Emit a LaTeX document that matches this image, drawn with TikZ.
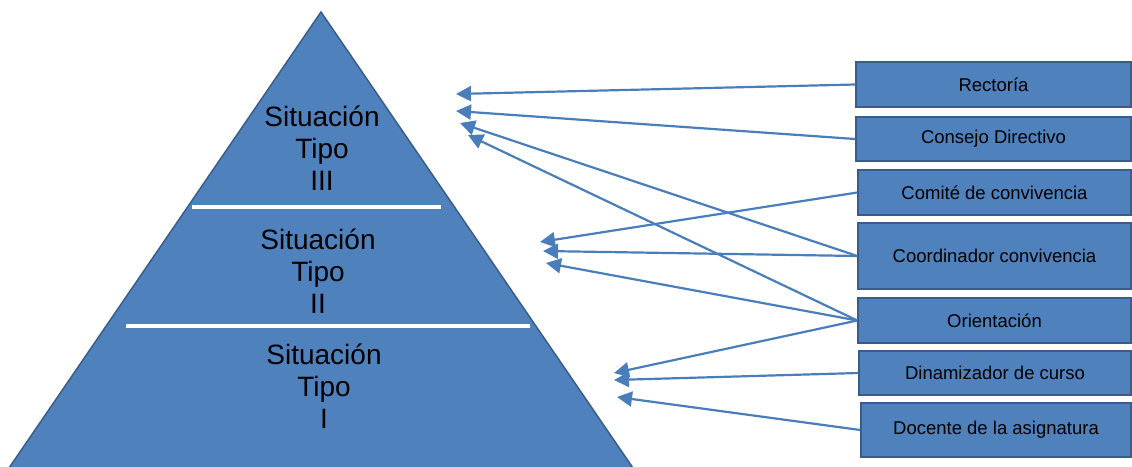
\documentclass[tikz,border=0pt]{standalone}
\usepackage{fontspec}
\setmainfont{Liberation Sans}
\usetikzlibrary{arrows.meta}
\definecolor{fillblue}{HTML}{4F81BD}
\definecolor{edgeblue}{HTML}{385D8A}
\definecolor{arrowblue}{HTML}{4A7EBB}
\begin{document}
\begin{tikzpicture}[x=1pt,y=-1pt,
  rolebox/.style={draw=edgeblue, line width=1.5pt, fill=fillblue, font=\fontsize{18.5}{22}\selectfont, text=black, inner sep=0pt},
  link/.style={draw=arrowblue, line width=2.2pt, -{Triangle[length=15pt,width=15pt]}},
  level/.style={align=center, font=\fontsize{28}{32}\selectfont, text=black},
  divider/.style={white, line width=4pt}]
\useasboundingbox (0,0) rectangle (1132,466);
\clip (0,0) rectangle (1132,466);
% pyramid
\draw[edgeblue, line width=1.5pt, fill=fillblue] (321,12) -- (633,468) -- (9,468) -- cycle;
\draw[divider] (192,207) -- (441,207);
\draw[divider] (126,326) -- (530,326);
\node[level] (t3) at (322,148) {Situación\\Tipo\\III};
\node[level] (t2) at (318,271) {Situación\\Tipo\\II};
\node[level] (t1) at (324,386) {Situación\\Tipo\\I};
% role boxes
\node[rolebox, minimum width=275pt, minimum height=45pt] (rec) at (993.5,84.5) {Rectoría};
\node[rolebox, minimum width=275pt, minimum height=44pt] (con) at (993.5,139) {Consejo Directivo};
\node[rolebox, minimum width=273pt, minimum height=45pt] (com) at (994.5,192.5) {Comité de convivencia};
\node[rolebox, minimum width=273pt, minimum height=66pt] (coo) at (994.5,256) {Coordinador convivencia};
\node[rolebox, minimum width=273pt, minimum height=45pt] (ori) at (994.5,320.5) {Orientación};
\node[rolebox, minimum width=272pt, minimum height=44pt] (din) at (995,373) {Dinamizador de curso};
\node[rolebox, minimum width=270pt, minimum height=54pt] (doc) at (996,430) {Docente de la asignatura};
% arrow tips
\coordinate (a1) at (456,94);
\coordinate (a2) at (456,111);
\coordinate (a3) at (460,123);
\coordinate (a4) at (468,135);
\coordinate (b1) at (540,242);
\coordinate (b2) at (543,251);
\coordinate (b3) at (546,263);
\coordinate (c1) at (614,373);
\coordinate (c2) at (614,380);
\coordinate (c3) at (617,397);
% connectors
\draw[link] (rec.west) -- (a1);
\draw[link] (con.west) -- (a2);
\draw[link] (coo.west) -- (a3);
\draw[link] (ori.west) -- (a4);
\draw[link] (com.west) -- (b1);
\draw[link] (coo.west) -- (b2);
\draw[link] (ori.west) -- (b3);
\draw[link] (ori.west) -- (c1);
\draw[link] (din.west) -- (c2);
\draw[link] (doc.west) -- (c3);
\end{tikzpicture}
\end{document}
